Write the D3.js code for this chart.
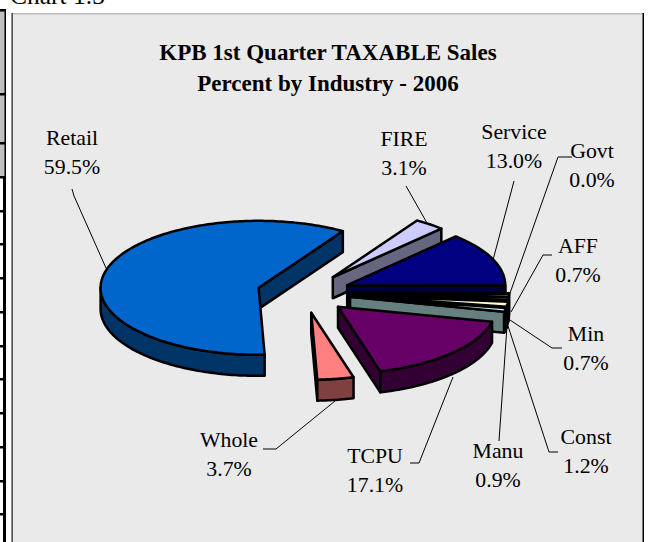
<!DOCTYPE html>
<html><head><meta charset="utf-8">
<script src="https://cdn.jsdelivr.net/npm/d3@7"></script>
<style>html,body{margin:0;padding:0;background:#fff;overflow:hidden}svg{display:block}text{font-family:"Liberation Serif",serif;fill:#000}</style>
</head><body><svg id="c" width="649" height="542"></svg>
<script>
const categories=["Retail","FIRE","Service","Govt","AFF","Min","Const","Manu","TCPU","Whole"];
const percents=[59.5,3.1,13.0,0.0,0.7,0.7,1.2,0.9,17.1,3.7];
const topColors=["#0066CC","#CCCCFF","#000080","#FFCC99","#9999FF","#993366","#FFFFCC","#CCFFFF","#660066","#FF8080"];
const wallColors=["#003366","#666680","#000040","#806650","#4D4D80","#4D1A33","#808066","#668080","#330033","#804040"];
const titleLines=["KPB 1st Quarter TAXABLE Sales","Percent by Industry - 2006"];
const caption="Chart 1.3";
const sheetRules=[10,94,143,177,211,244,278,312,346,379,413,447,481,514];
// label layout: [centre x, first baseline]
const labelPos=[[72,145],[404,146],[514,139],[592,158],[578,253],[586,341],[586,444],[498,458],[375,463],[229,447]];
// leader polylines (label end to slice end)
const leaders=[[[72,189],[74,196],[106,268]],[[406,186],[427,223]],[[514,181],[493,260]],[[572,157],[558,157],[509,296]],[[552,255],[543,255],[511,312]],[[562,348],[552,348],[510,320]],[[558,452],[549,452],[508,326]],[[499,441],[507,326]],[[410,463],[419,463],[453,377]],[[263,449],[276,449],[335,401]]];

const svg=d3.select("#c");
// spreadsheet remnants at left
svg.append("rect").attr("x",0).attr("y",10).attr("width",5).attr("height",167).attr("fill","#c0c0c0");
svg.append("rect").attr("x",4.5).attr("y",9).attr("width",1.5).attr("height",168).attr("fill","#000");
svg.append("rect").attr("x",3).attr("y",177).attr("width",3).attr("height",365).attr("fill","#000");
svg.selectAll("rect.r").data(sheetRules).join("rect").attr("class","r").attr("x",0).attr("width",5).attr("y",d=>d-1).attr("height",2.5).attr("fill","#000");
// chart frame
svg.append("rect").attr("x",11).attr("y",13).attr("width",632).attr("height",540).attr("fill","#EAEAEA");
svg.append("rect").attr("x",11).attr("y",13).attr("width",632).attr("height",1.5).attr("fill","#bdbdbd");
svg.append("rect").attr("x",11).attr("y",13).attr("width",1).attr("height",529).attr("fill","#888");
svg.append("rect").attr("x",12).attr("y",13).attr("width",1).attr("height",529).attr("fill","#555");
svg.append("rect").attr("x",642.5).attr("y",13).attr("width",1.5).attr("height",529).attr("fill","#000");
svg.append("text").attr("x",10).attr("y",4).attr("font-size",25.5).text(caption);
// titles
svg.selectAll("text.t").data(titleLines).join("text").attr("class","t").attr("x",328).attr("y",(d,i)=>60+i*31)
  .attr("text-anchor","middle").attr("font-size",23).attr("font-weight","bold").text(d=>d);
// leaders
const line=d3.line();
svg.selectAll("path.l").data(leaders).join("path").attr("class","l").attr("d",line).attr("fill","none").attr("stroke","#000").attr("stroke-width",1);
// labels
categories.forEach((c,i)=>{
  const g=svg.append("text").attr("text-anchor","middle").attr("font-size",21.8);
  g.append("tspan").attr("x",labelPos[i][0]).attr("y",labelPos[i][1]).text(c);
  g.append("tspan").attr("x",labelPos[i][0]).attr("y",labelPos[i][1]+29).text(percents[i].toFixed(1)+"%");
});
// exploded 3-D pie
const rad=d=>d*Math.PI/180;
const start=rad(177.8);
const pie=d3.pie().sort(null).value(d=>d).startAngle(start).endAngle(start+2*Math.PI);
const arcs=pie(percents);
const R=158,K=67/158,DEPTH=21,EXPLODE=47,C0=[304,293];
const arcX=d3.scaleLinear().domain([-1,1]).range([-R,R]);
const arcY=d3.scaleLinear().domain([-1,1]).range([-R*K,R*K]);
function rim(c,a,dz){return [c[0]+arcX(Math.sin(a)),c[1]-arcY(Math.cos(a))+dz];}
function sweep(c,a0,a1,dz){
  const n=Math.max(1,Math.ceil(Math.abs(a1-a0)/rad(1)));
  return d3.range(n+1).map(k=>rim(c,a0+(a1-a0)*k/n,dz));
}
const pieG=svg.append("g").attr("stroke","#000").attr("stroke-width",2.5).attr("stroke-linejoin","round");
arcs.forEach((s,i)=>{
  const shift=s.startAngle>=2*Math.PI?2*Math.PI:0;
  const a0=s.startAngle-shift,a1=s.endAngle-shift;
  const mid=(a0+a1)/2;
  const c=[C0[0]+EXPLODE*Math.sin(mid),C0[1]-EXPLODE*K*Math.cos(mid)];
  const c2=[c[0],c[1]+DEPTH];
  const face=pts=>pieG.append("path").attr("d",line(pts)+"Z").attr("fill",wallColors[i]);
  if(Math.sin(a0)<0) face([c,rim(c,a0,0),rim(c,a0,DEPTH),c2]);
  if(Math.sin(a1)>0) face([c,rim(c,a1,0),rim(c,a1,DEPTH),c2]);
  // outer wall: front half of the rim only (90 to 270 degrees)
  const lo=Math.max(a0,rad(90)),hi=Math.min(a1,rad(270));
  if(hi>lo) face(sweep(c,lo,hi,0).concat(sweep(c,hi,lo,DEPTH)));
  pieG.append("path").attr("d",line([c].concat(sweep(c,a0,a1,0)))+"Z").attr("fill",topColors[i]);
});
</script></body></html>
